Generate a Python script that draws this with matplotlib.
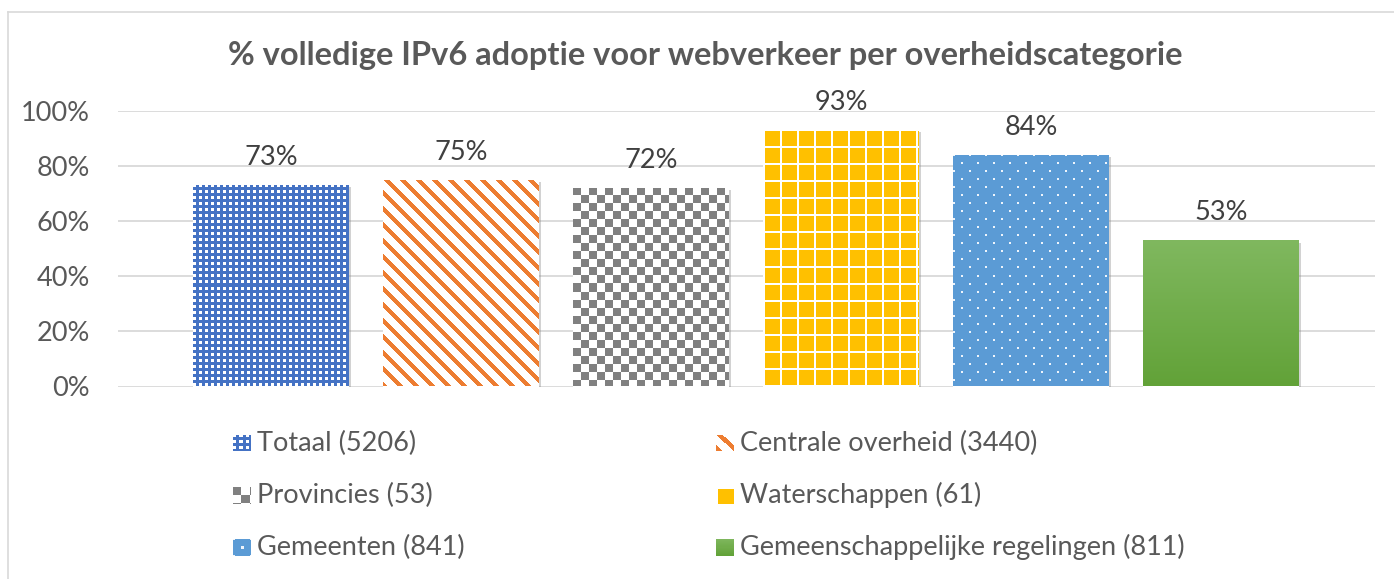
import numpy as np
import matplotlib
matplotlib.use("Agg")
import matplotlib.pyplot as plt
import matplotlib.colors as mcolors
import matplotlib.patheffects as pe
from matplotlib.lines import Line2D

# ---------------- data ----------------
title = "% volledige IPv6 adoptie voor webverkeer per overheidscategorie"
categories = ["Totaal (5206)", "Centrale overheid (3440)", "Provincies (53)",
              "Waterschappen (61)", "Gemeenten (841)", "Gemeenschappelijke regelingen (811)"]
values = [0.73, 0.75, 0.72, 0.93, 0.84, 0.53]
value_labels = ["73%", "75%", "72%", "93%", "84%", "53%"]
yticks = [0.0, 0.2, 0.4, 0.6, 0.8, 1.0]
ytick_labels = ["0%", "20%", "40%", "60%", "80%", "100%"]

# ---------------- styling ----------------
W, H, DPI = 1394, 579, 100
FONT = ["Lato", "DejaVu Sans"]
plt.rcParams["font.family"] = FONT
TXT = "#595959"
LBL = "#404040"
FS = 19.5
kinds = ["smallgrid", "stripes", "checker", "grid", "dots", "gradient"]

def rgb(h):
    return np.array(mcolors.to_rgb(h))

def make_pattern(kind, h, w):
    yy, xx = np.mgrid[0:h, 0:w]
    img = np.ones((h, w, 3))
    white = np.array([1.0, 1.0, 1.0])
    if kind == "smallgrid":
        img[:] = rgb("#4472C4")
        m = (xx % 6 < 3) & (yy % 6 < 3)
        img[m] = white
    elif kind == "stripes":
        img[:] = white
        m = ((xx - yy) % 16) < 6
        img[m] = rgb("#ED7D31")
    elif kind == "checker":
        img[:] = white
        m = ((xx // 8) + (yy // 8)) % 2 == 0
        img[m] = rgb("#808080")
    elif kind == "grid":
        img[:] = rgb("#FFC000")
        m = ((xx % 17) < 2) | ((yy % 17) < 2)
        img[m] = white
    elif kind == "dots":
        img[:] = rgb("#5B9BD5")
        off = ((yy // 8) % 2) * 8
        m = ((yy % 8) < 2) & (((xx + off) % 16) < 2)
        img[m] = rgb("#EEF4FB")
    elif kind == "gradient":
        top = rgb("#80B85F")
        bot = rgb("#62A238")
        t = (yy / max(h - 1, 1))[..., None]
        img = top * (1 - t) + bot * t
    return img

fig = plt.figure(figsize=(W / DPI, H / DPI), dpi=DPI)
fig.patch.set_facecolor("white")

# outer chart border
fig.add_artist(Line2D([8 / W, 8 / W], [1 - 12 / H, -0.1], transform=fig.transFigure,
                      color="#D9D9D9", lw=1.2))
fig.add_artist(Line2D([8 / W, 1.1], [1 - 12 / H, 1 - 12 / H], transform=fig.transFigure,
                      color="#D9D9D9", lw=1.2))

ax_l, ax_r, ax_t, ax_b = 118, 1375, 111, 386.5
ax = fig.add_axes([ax_l / W, 1 - ax_b / H, (ax_r - ax_l) / W, (ax_b - ax_t) / H])
x = np.arange(len(categories))
xlim = (-0.805, 5.81)
ax.set_xlim(*xlim)
ax.set_ylim(0, 1.0)

bars = ax.bar(x, values, width=0.82, color="white", linewidth=0, zorder=2)
for b in bars:
    b.set_path_effects([pe.SimplePatchShadow(offset=(1.5, -1.5), shadow_rgbFace="#7f7f7f", alpha=0.35),
                        pe.Normal()])

for b, k in zip(bars, kinds):
    bb = b.get_window_extent()
    w = max(int(round(bb.width)), 1)
    h = max(int(round(bb.height)), 1)
    img = make_pattern(k, h, w)
    x0 = b.get_x()
    im = ax.imshow(img, extent=(x0, x0 + b.get_width(), 0, b.get_height()),
                   origin="upper", aspect="auto", interpolation="nearest", zorder=3)
    im.set_clip_path(b)

ax.set_xlim(*xlim)
ax.set_ylim(0, 1.0)

for yv in yticks:
    ax.axhline(yv, color="#D9D9D9", lw=1.3, zorder=1)

for spine in ax.spines.values():
    spine.set_visible(False)
ax.set_xticks([])
ax.set_yticks(yticks)
ax.set_yticklabels(ytick_labels, fontsize=FS, color=TXT)
ax.tick_params(axis="y", length=0, pad=20)

for xi, v, lab in zip(x, values, value_labels):
    ax.annotate(lab, (xi, v), xytext=(0, 20), textcoords="offset points",
                ha="center", va="center", fontsize=FS, color=LBL)

fig.text(705 / W, 1 - 55 / H, title, ha="center", va="center",
         fontsize=23.5, fontweight="bold", color=TXT)

# legend
col_x = [233, 716]
row_y = [443, 495, 547]
sq = 17
for i, (cat, k) in enumerate(zip(categories, kinds)):
    r, c = i // 2, i % 2
    sx, cy = col_x[c], row_y[r]
    lax = fig.add_axes([sx / W, 1 - (cy + sq / 2) / H, sq / W, sq / H])
    lax.imshow(make_pattern(k, sq, sq), interpolation="nearest", aspect="auto")
    lax.set_axis_off()
    fig.text((sx + sq + 7) / W, 1 - cy / H, cat, ha="left", va="center",
             fontsize=FS, color=TXT)

fig.savefig("out.png", dpi=DPI, facecolor="white")
